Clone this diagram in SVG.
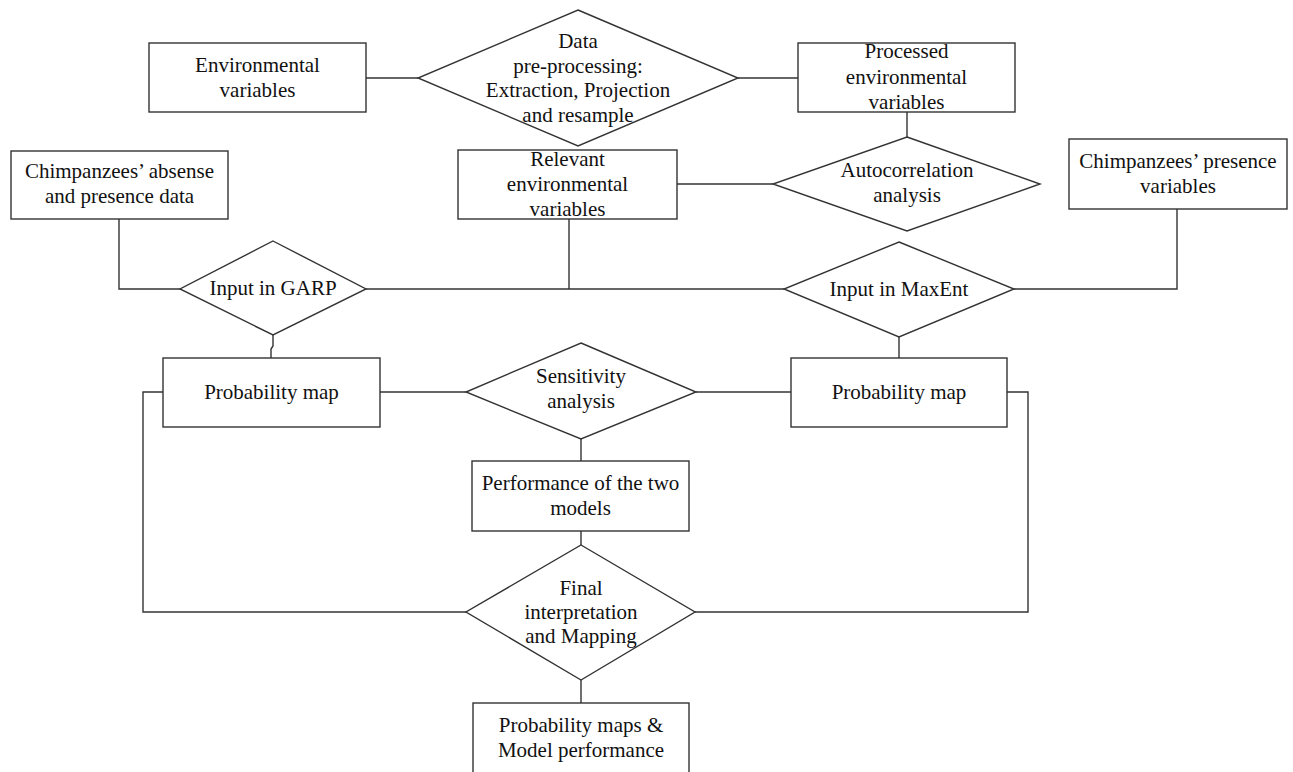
<svg xmlns="http://www.w3.org/2000/svg" width="1293" height="772" viewBox="0 0 1293 772">
<style>
.n{fill:#fff;stroke:#333;stroke-width:1.4}
.c{fill:none;stroke:#333;stroke-width:1.4}
text{font-family:"Liberation Serif","Times New Roman",serif;font-size:21px;fill:#111;text-anchor:middle}
</style>
<rect width="1293" height="772" fill="#fff"/>
<g id="connectors">
<path class="c" d="M366,78H418"/>
<path class="c" d="M738,78H798"/>
<path class="c" d="M907,112V137"/>
<path class="c" d="M677,184H773"/>
<path class="c" d="M119,219V289H180"/>
<path class="c" d="M366,289H784"/>
<path class="c" d="M569,219V289"/>
<path class="c" d="M1177,209V289H1014"/>
<path class="c" d="M273,335V346L271,349V358"/>
<path class="c" d="M899,337V358"/>
<path class="c" d="M380,392H466"/>
<path class="c" d="M696,392H791"/>
<path class="c" d="M581,439V461"/>
<path class="c" d="M581,531V545"/>
<path class="c" d="M163,392H143V612H466"/>
<path class="c" d="M1007,392H1028V612H695"/>
<path class="c" d="M581,680V703"/>
</g>
<g id="env">
<rect class="n" x="149" y="43" width="217" height="69"/>
<text x="257.5" y="72">Environmental</text>
<text x="257.5" y="97">variables</text>
</g>
<g id="preproc">
<polygon class="n" points="578,10 738,78 578,146 418,78"/>
<text x="578" y="48">Data</text>
<text x="578" y="73">pre-processing:</text>
<text x="578" y="97">Extraction, Projection</text>
<text x="578" y="122">and resample</text>
</g>
<g id="processed">
<rect class="n" x="798" y="43" width="217" height="69"/>
<text x="906.5" y="58">Processed</text>
<text x="906.5" y="84">environmental</text>
<text x="906.5" y="109">variables</text>
</g>
<g id="autocorr">
<polygon class="n" points="907,137 1040,184 907,231 773,184"/>
<text x="907" y="177">Autocorrelation</text>
<text x="907" y="202">analysis</text>
</g>
<g id="relevant">
<rect class="n" x="458" y="150" width="219" height="69"/>
<text x="567.5" y="166">Relevant</text>
<text x="567.5" y="191">environmental</text>
<text x="567.5" y="216">variables</text>
</g>
<g id="absence">
<rect class="n" x="11" y="151" width="217" height="68"/>
<text x="119.5" y="178">Chimpanzees’ absense</text>
<text x="119.5" y="203">and presence data</text>
</g>
<g id="presence">
<rect class="n" x="1069" y="139" width="218" height="70"/>
<text x="1178" y="168">Chimpanzees’ presence</text>
<text x="1178" y="193">variables</text>
</g>
<g id="garp">
<polygon class="n" points="273,241 366,289 273,335 180,289"/>
<text x="273" y="295">Input in GARP</text>
</g>
<g id="maxent">
<polygon class="n" points="899,242 1014,289 899,337 784,289"/>
<text x="899" y="296">Input in MaxEnt</text>
</g>
<g id="probmap1">
<rect class="n" x="163" y="358" width="217" height="69"/>
<text x="271.5" y="399">Probability map</text>
</g>
<g id="probmap2">
<rect class="n" x="791" y="358" width="216" height="69"/>
<text x="899" y="399">Probability map</text>
</g>
<g id="sensitivity">
<polygon class="n" points="581,343 696,392 581,439 466,392"/>
<text x="581" y="383">Sensitivity</text>
<text x="581" y="408">analysis</text>
</g>
<g id="performance">
<rect class="n" x="472" y="461" width="217" height="70"/>
<text x="580.5" y="490">Performance of the two</text>
<text x="580.5" y="515">models</text>
</g>
<g id="final">
<polygon class="n" points="581,545 695,612 581,680 466,612"/>
<text x="581" y="595">Final</text>
<text x="581" y="619">interpretation</text>
<text x="581" y="643">and Mapping</text>
</g>
<g id="output">
<rect class="n" x="473" y="703" width="216" height="72"/>
<text x="581" y="732">Probability maps &amp;</text>
<text x="581" y="757">Model performance</text>
</g>
</svg>
